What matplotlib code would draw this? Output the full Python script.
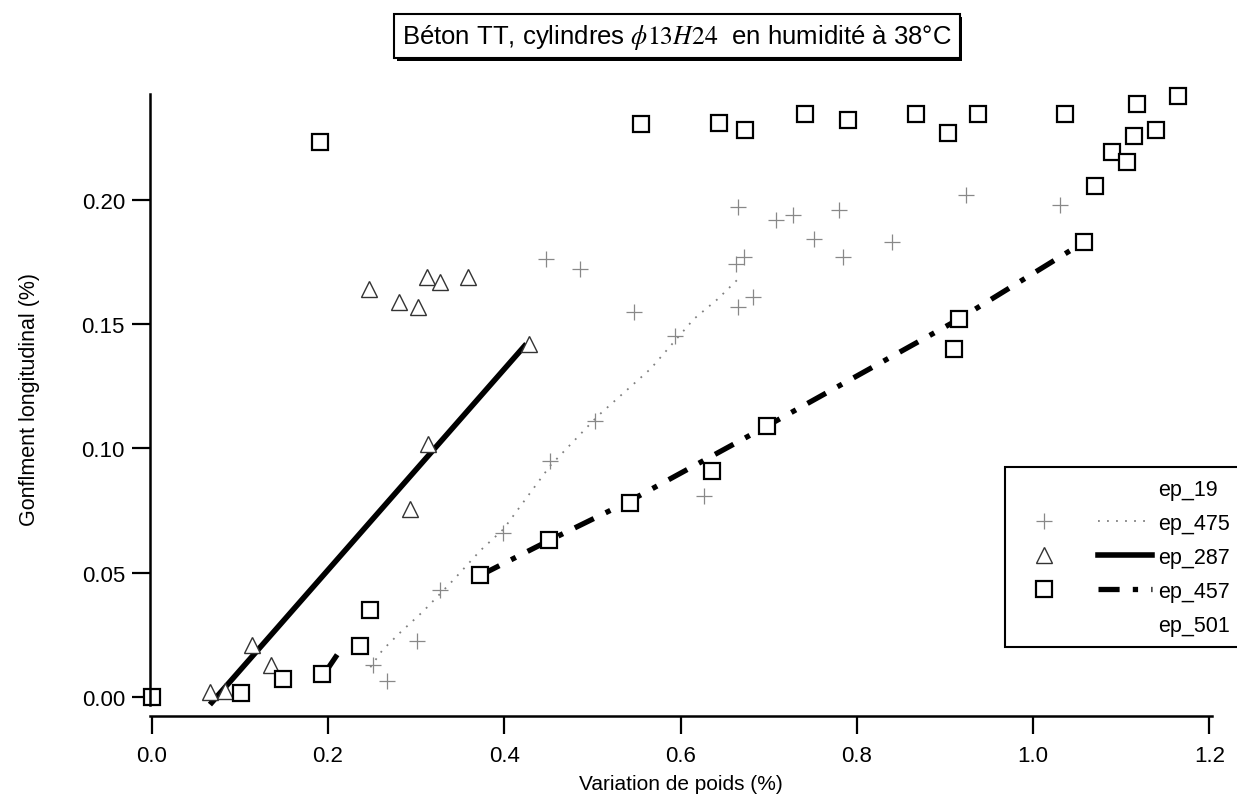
import matplotlib
matplotlib.use('Agg')
import numpy as np
import matplotlib.pyplot as plt
import matplotlib.patheffects as pe
from matplotlib.lines import Line2D
from matplotlib.legend_handler import HandlerTuple

plt.rcParams['font.family'] = ['Liberation Sans', 'DejaVu Sans']
plt.rcParams['mathtext.fontset'] = 'stix'

# ep_475 : croix (points) + courbe pointillée
x_475 = [0.251, 0.267, 0.301, 0.327, 0.398, 0.452, 0.503, 0.547, 0.594, 0.627,
         0.447, 0.486, 0.665, 0.708, 0.728, 0.780, 0.751, 0.784, 0.840,
         0.672, 0.663, 0.682, 0.665, 0.924, 1.031]
y_475 = [0.013, 0.0064, 0.0225, 0.043, 0.066, 0.095, 0.111, 0.155, 0.145, 0.081,
         0.176, 0.172, 0.197, 0.192, 0.194, 0.196, 0.184, 0.177, 0.183,
         0.177, 0.174, 0.161, 0.157, 0.202, 0.198]
x_475_fit = [0.248, 0.262, 0.282, 0.308, 0.342, 0.373, 0.399, 0.452, 0.506, 0.566, 0.615, 0.642, 0.665]
y_475_fit = [0.012, 0.019, 0.026, 0.0345, 0.047, 0.059, 0.0675, 0.093, 0.113, 0.132, 0.152, 0.160, 0.168]

# ep_287 : triangles + droite
x_287 = [0.066, 0.083, 0.114, 0.135, 0.293, 0.313, 0.428,
         0.247, 0.281, 0.302, 0.312, 0.327, 0.359]
y_287 = [0.002, 0.0024, 0.021, 0.013, 0.0755, 0.1016, 0.142,
         0.164, 0.159, 0.157, 0.169, 0.167, 0.169]
x_287_fit = [0.066, 0.425]
y_287_fit = [-0.003, 0.142]

# ep_457 : carrés + trait mixte
x_457 = [0.0, 0.101, 0.149, 0.193, 0.236, 0.248, 0.373, 0.451, 0.543,
         0.636, 0.698, 0.910, 0.916, 1.058]
y_457 = [0.0, 0.0016, 0.0072, 0.0092, 0.0205, 0.035, 0.049, 0.063, 0.078,
         0.091, 0.109, 0.140, 0.152, 0.183]
x_457_line = [0.197, 0.216, np.nan, 0.373, 0.451, 0.543, 0.698, 0.916, 1.058]
y_457_line = [0.010, 0.020, np.nan, 0.049, 0.063, 0.079, 0.109, 0.152, 0.183]

# ep_501 : carrés du haut
x_501 = [0.191, 0.555, 0.644, 0.673, 0.741, 0.790, 0.867, 0.903, 0.9375,
         1.036, 1.118, 1.164, 1.114, 1.139, 1.089, 1.106, 1.070]
y_501 = [0.223, 0.2305, 0.231, 0.228, 0.2345, 0.232, 0.2345, 0.227, 0.2345,
         0.2345, 0.2386, 0.2418, 0.2257, 0.228, 0.219, 0.215, 0.2056]

labels = ['ep_19', 'ep_475', 'ep_287', 'ep_457', 'ep_501']

fig = plt.figure(figsize=(12.37, 8.12), dpi=100)
ax = fig.add_axes([150/1237, 95/812, 1062/1237, 622/812])

ax.plot(x_475_fit, y_475_fit, color='#808080', lw=1.3, dashes=(1, 4))
ax.plot(x_475, y_475, '+', color='#888888', ms=11, mew=0.9, ls='none')

ax.plot(x_287_fit, y_287_fit, color='black', lw=4, solid_capstyle='butt')
ax.plot(x_287, y_287, '^', mfc='white', mec='#333333', ms=11, mew=1.0, ls='none')

ax.plot(x_457_line, y_457_line, color='black', lw=3.8, dashes=(4, 2.5, 1, 2.5),
        dash_capstyle='butt')
ax.plot(x_457, y_457, 's', mfc='white', mec='black', ms=12, mew=1.6, ls='none',
        clip_on=False)
ax.plot(x_501, y_501, 's', mfc='white', mec='black', ms=12, mew=1.6, ls='none',
        clip_on=False)

ax.set_xlim(-0.002, 1.203)
ax.set_ylim(-0.0076, 0.2425)
ax.set_xticks([0.0, 0.2, 0.4, 0.6, 0.8, 1.0, 1.2])
ax.set_yticks([0.0, 0.05, 0.10, 0.15, 0.20])
ax.xaxis.set_major_formatter(matplotlib.ticker.FormatStrFormatter('%.1f'))
ax.yaxis.set_major_formatter(matplotlib.ticker.FormatStrFormatter('%.2f'))
ax.spines['top'].set_visible(False)
ax.spines['right'].set_visible(False)
ax.spines['left'].set_linewidth(1.8)
ax.spines['bottom'].set_linewidth(1.8)
ax.spines['left'].set_bounds(-0.003, 0.2425)
ax.tick_params(axis='both', direction='out', length=13, width=1.6, labelsize=16)
ax.tick_params(axis='y', pad=5)
ax.tick_params(axis='x', pad=8)

ax.set_xlabel('Variation de poids (%)', fontsize=15)
ax.xaxis.set_label_coords(0.5, -0.093)
ax.set_ylabel('Gonflment longitudinal (%)', fontsize=15.5)
ax.yaxis.set_label_coords(-0.104, 0.51)

t = fig.text(677/1237, 1 - 37/812,
             r'Béton TT, cylindres $\phi\mathit{13H24}$  en humidité à 38°C',
             ha='center', va='center', fontsize=18.5,
             bbox=dict(boxstyle='square,pad=0.3', fc='white', ec='black', lw=1.5))
t.get_bbox_patch().set_path_effects([
    pe.SimplePatchShadow(offset=(2, -2), shadow_rgbFace='black', alpha=1.0),
    pe.Normal()])

empty = Line2D([], [], ls='none')
h_475 = (Line2D([], [], marker='+', color='#888888', ms=11, mew=0.9, ls='none'),
         Line2D([], [], color='#808080', lw=1.3, dashes=(1, 4)))
h_287 = (Line2D([], [], marker='^', mfc='white', mec='#333333', ms=11, mew=1.0, ls='none'),
         Line2D([], [], color='black', lw=4))
h_457 = (Line2D([], [], marker='s', mfc='white', mec='black', ms=12, mew=1.6, ls='none'),
         Line2D([], [], color='black', lw=3.8, dashes=(4, 2.5, 1, 2.5)))
handles = [(empty, empty), h_475, h_287, h_457, (empty, empty)]

leg = fig.legend(handles, labels, loc='upper left',
                 bbox_to_anchor=(1005/1237, 1 - 468/812), borderaxespad=0,
                 handler_map={tuple: HandlerTuple(ndivide=None, pad=1.2)},
                 handlelength=6.3, handletextpad=0.25, fontsize=15.5,
                 labelspacing=0.6, borderpad=0.55, fancybox=False,
                 frameon=True, edgecolor='black', framealpha=1)
leg.get_frame().set_linewidth(1.5)

fig.savefig('out.png', dpi=100)
